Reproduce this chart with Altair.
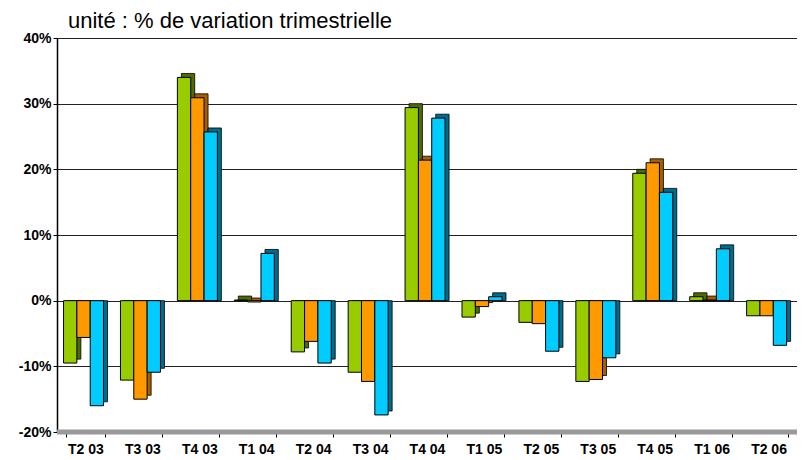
import altair as alt
import pandas as pd

title_text = "unité : % de variation trimestrielle"
categories = ["T2 03", "T3 03", "T4 03", "T1 04", "T2 04", "T3 04", "T4 04",
              "T1 05", "T2 05", "T3 05", "T4 05", "T1 06", "T2 06"]
series_names = ["s1", "s2", "s3"]
green = [-9.5, -12.1, 34.0, 0.1, -7.8, -10.9, 29.4, -2.5, -3.3, -12.3, 19.4, 0.6, -2.3]
orange = [-5.6, -15.0, 30.9, -0.2, -6.2, -12.3, 21.4, -0.9, -3.5, -12.0, 21.0, 0.1, -2.3]
cyan = [-16.0, -10.9, 25.7, 7.2, -9.5, -17.4, 27.8, 0.6, -7.7, -8.7, 16.5, 7.9, -6.8]
y_ticks = [-20, -10, 0, 10, 20, 30, 40]

face_colors = ["#99CC00", "#FF9900", "#00CCFF"]
side_colors = ["#4F6B00", "#A65F00", "#006B8A"]

rows = []
for s, vals in zip(series_names, [green, orange, cyan]):
    for c, v in zip(categories, vals):
        rows.append({"cat": c, "series": s, "v": v})
df = pd.DataFrame(rows)

W, H = 740, 394
DEPTH = 0.6  # shift of the side face, in data units

x_enc = alt.X("cat:N", sort=categories,
              scale=alt.Scale(paddingInner=0.3, paddingOuter=0.15),
              axis=alt.Axis(title=None, labelAngle=0, labelFont="Liberation Sans",
                            labelFontWeight="bold", labelFontSize=14, labelColor="black",
                            domainColor="black", domainWidth=1.5, tickColor="black",
                            tickSize=5, tickBand="extent", labelPadding=5))
y_scale = alt.Scale(domain=[-20, 40], nice=False, zero=False)
y_axis = alt.Axis(title=None, values=y_ticks, labelExpr="datum.value + '%'",
                  labelFont="Liberation Sans", labelFontWeight="bold",
                  labelFontSize=14, labelColor="black", grid=True,
                  gridColor="#222222", gridWidth=1.2, domainColor="black",
                  domainWidth=1.5, tickColor="black", tickSize=4, labelPadding=2)

floor = alt.Chart(pd.DataFrame({"f": [-20]})).mark_rule(
    color="#9a9a9a", strokeWidth=5
).encode(y=alt.Y("f:Q", scale=y_scale, axis=y_axis))

shadow = alt.Chart(df).transform_calculate(
    vs="datum.v + %f" % DEPTH
).mark_bar(stroke="black", strokeWidth=0.8).encode(
    x=x_enc,
    xOffset=alt.XOffset("series:N", sort=series_names,
                        scale=alt.Scale(range=[2, 42])),
    y=alt.Y("vs:Q", scale=y_scale, axis=y_axis),
    y2=alt.datum(0),
    color=alt.Color("series:N", scale=alt.Scale(domain=series_names, range=side_colors), legend=None),
)

main = alt.Chart(df).mark_bar(stroke="black", strokeWidth=1).encode(
    x=x_enc,
    xOffset=alt.XOffset("series:N", sort=series_names,
                        scale=alt.Scale(range=[-2, 38])),
    y=alt.Y("v:Q", scale=y_scale, axis=y_axis),
    y2=alt.datum(0),
    color=alt.Color("series:N", scale=alt.Scale(domain=series_names, range=face_colors), legend=None),
)

title = alt.Chart(pd.DataFrame({"t": [title_text]})).mark_text(
    align="left", baseline="alphabetic", font="Liberation Sans", fontSize=22,
    color="black"
).encode(text="t:N", x=alt.value(11), y=alt.value(-10))

chart = alt.layer(floor, shadow, main, title).resolve_scale(
    xOffset="independent", color="independent"
).properties(
    width=W, height=H,
    autosize=alt.AutoSizeParams(type="none"),
    padding={"left": 49, "top": 30, "right": 0, "bottom": 26},
).configure_view(stroke=None).configure(background="white")

chart.save("out.html", embed_options={"renderer": "svg", "actions": False})
